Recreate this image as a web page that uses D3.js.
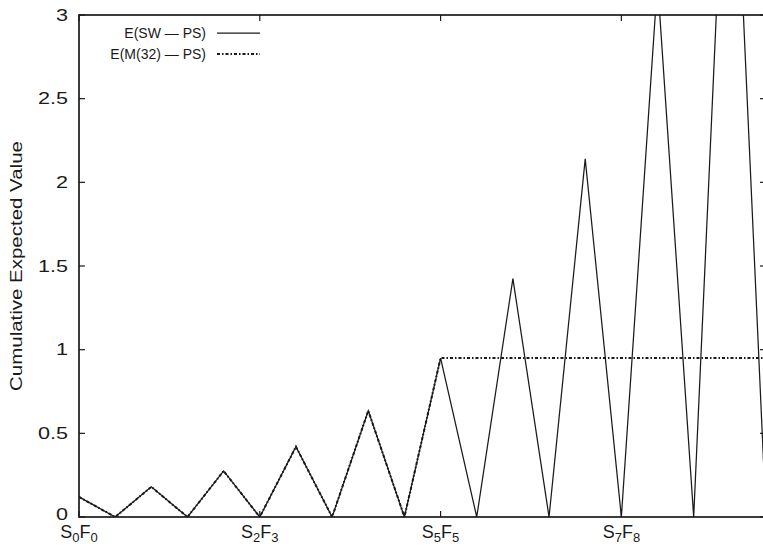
<!DOCTYPE html>
<html><head><meta charset="utf-8">
<script src="https://cdn.jsdelivr.net/npm/d3@7"></script>
<style>
html,body{margin:0;padding:0;background:#fff;}
svg{display:block;font-family:"Liberation Sans",Arial,Helvetica,sans-serif;}
</style></head>
<body><svg id="c" width="763" height="547"></svg>
<script>
// Data
const steps = d3.range(0, 20); // x index of each state
const swps = [0.12,0,0.18,0,0.275,0,0.42,0,0.635,0,0.95,0,1.425,0,2.14,0,3.2,0,4.8,0];
const m32ps = [0.12,0,0.18,0,0.275,0,0.42,0,0.635,0,0.95,0.95,0.95,0.95,0.95,0.95,0.95,0.95,0.95,0.95];
const xTickIdx = [0,5,10,15];
const xTickLabels = [["S","0","F","0"],["S","2","F","3"],["S","5","F","5"],["S","7","F","8"]];
const yTicks = [0,0.5,1,1.5,2,2.5,3];
const legendLabels = ["E(SW \u2014 PS)","E(M(32) \u2014 PS)"];

const svg = d3.select("#c");
const L = 79, R = 766, T = 15, B = 517;
const x = d3.scaleLinear().domain([0,19]).range([L,R]);
const y = d3.scaleLinear().domain([0,3]).range([B,T]);
const ink = "#1a1a1a";

svg.append("defs").append("clipPath").attr("id","clip")
  .append("rect").attr("x",L).attr("y",T).attr("width",R-L).attr("height",B-T);

// Lines
const line = d3.line().x((d,i)=>x(steps[i])).y(d=>y(d));
const g = svg.append("g").attr("clip-path","url(#clip)");
g.append("path").datum(swps).attr("d",line).attr("fill","none")
  .attr("stroke",ink).attr("stroke-width",1.25);
g.append("path").datum(m32ps).attr("d",line).attr("fill","none")
  .attr("stroke",ink).attr("stroke-width",2).attr("stroke-dasharray","3,2,1.5,2");

// Frame
svg.append("rect").attr("x",L).attr("y",T).attr("width",R-L).attr("height",B-T)
  .attr("fill","none").attr("stroke",ink).attr("stroke-width",1.7);

// Y ticks (inward, both sides)
yTicks.forEach(v=>{
  svg.append("line").attr("x1",L).attr("x2",L+6).attr("y1",y(v)).attr("y2",y(v)).attr("stroke",ink).attr("stroke-width",1.2);
  svg.append("line").attr("x1",R).attr("x2",R-6).attr("y1",y(v)).attr("y2",y(v)).attr("stroke",ink).attr("stroke-width",1.2);
  svg.append("text").attr("transform",`translate(68,${y(v) - (v===0?3:0)}) scale(1.35,1)`)
    .attr("dy","0.36em").attr("text-anchor","end")
    .attr("font-size",16).attr("fill",ink).text(d3.format("~g")(v));
});

// X ticks
xTickIdx.forEach((xi,k)=>{
  svg.append("line").attr("x1",x(xi)).attr("x2",x(xi)).attr("y1",B).attr("y2",B-6).attr("stroke",ink).attr("stroke-width",1.2);
  svg.append("line").attr("x1",x(xi)).attr("x2",x(xi)).attr("y1",T).attr("y2",T+6).attr("stroke",ink).attr("stroke-width",1.2);
  const parts = xTickLabels[k];
  const t = svg.append("text").attr("x",x(xi)).attr("y",538).attr("text-anchor","middle")
    .attr("font-size",18).attr("fill",ink);
  t.append("tspan").text(parts[0]);
  t.append("tspan").attr("font-size",13).attr("dy",4).text(parts[1]);
  t.append("tspan").attr("dy",-4).text(parts[2]);
  t.append("tspan").attr("font-size",13).attr("dy",4).text(parts[3]);
});

// Y axis title
svg.append("text").attr("transform","translate(22,266) rotate(-90) scale(1.28,1)")
  .attr("text-anchor","middle").attr("font-size",16).attr("fill",ink)
  .text("Cumulative Expected Value");

// Legend
const ly = [33,54];
legendLabels.forEach((lab,i)=>{
  svg.append("text").attr("x",206).attr("y",ly[i]).attr("dy","0.35em").attr("text-anchor","end")
    .attr("font-size",14).attr("fill",ink).text(lab);
  svg.append("line").attr("x1",217).attr("x2",260).attr("y1",ly[i]).attr("y2",ly[i])
    .attr("stroke",ink).attr("stroke-width",i?2:1.25)
    .attr("stroke-dasharray",i?"3,2,1.5,2":null);
});
</script></body></html>
